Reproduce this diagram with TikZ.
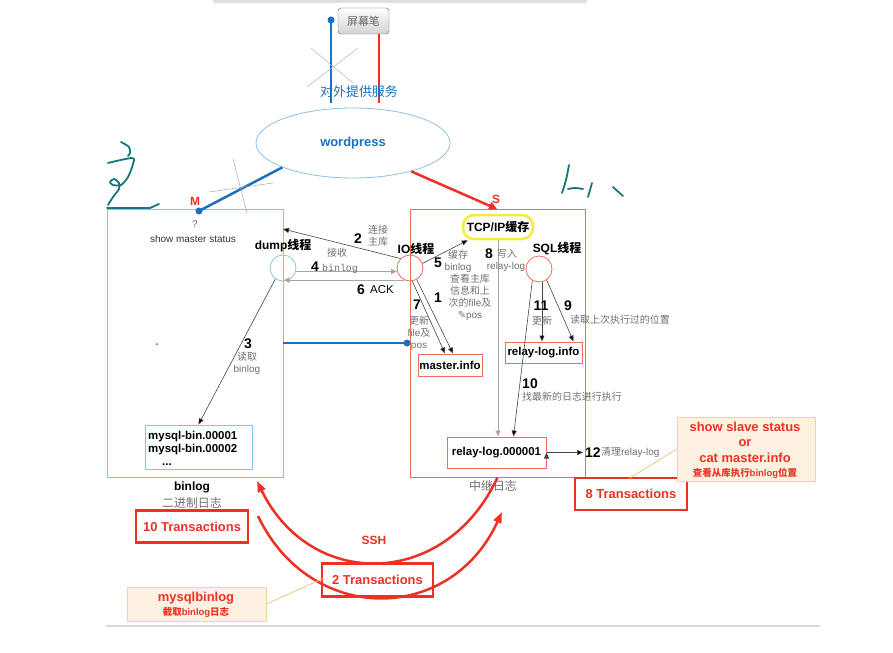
\documentclass[tikz,border=0pt]{standalone}
\usepackage{fontspec}
\setmainfont{Liberation Sans}
\setmonofont{Liberation Mono}
\newfontfamily\cjk{Noto Sans CJK SC}
\newfontfamily\symb{DejaVu Sans}
\usepackage{tikz}
\usetikzlibrary{arrows.meta}
\usetikzlibrary{calc}
\usetikzlibrary{positioning}
\usetikzlibrary{shapes.geometric}
\definecolor{mblue}{HTML}{1F6FBF}
\definecolor{lblue}{HTML}{8EC0E4}
\definecolor{rred}{HTML}{F26B5E}
\definecolor{tred}{HTML}{EE3124}
\definecolor{tyellow}{HTML}{F7EA3A}
\definecolor{flowgray}{HTML}{444444}
\definecolor{notegray}{HTML}{707070}
\definecolor{hand}{HTML}{16777A}
\definecolor{calloutfill}{HTML}{FDF1E2}
\definecolor{calloutedge}{HTML}{F3D3A0}
\newcommand\zh[1]{{\cjk #1}}
\newcommand\fs[1]{\fontsize{#1}{#1}\selectfont}
\newcommand\fsl[2]{\fontsize{#1}{#2}\selectfont}

\begin{document}
\begin{tikzpicture}[x=1bp, y=-1bp, >={Triangle[length=6bp,width=5bp]},
	thread/.style={circle,draw,minimum size=26bp,inner sep=0pt,line width=0.8bp},
	filebox/.style={draw=rred,line width=1bp,inner sep=0pt,font=\bfseries\fs{11.5}},
	tbox/.style={draw=tred,line width=2.5bp,text=tred,inner sep=0pt,font=\bfseries\fs{13}},
	note/.style={text=notegray,inner sep=0pt,font=\fsl{10}{12}},
	num/.style={inner sep=0pt,font=\bfseries\fs{14}},
	flow/.style={->,draw=flowgray,line width=0.6bp},
	callout/.style={draw=calloutedge,fill=calloutfill,line width=0.8bp,text=tred,inner sep=0pt,align=center},
	pen/.style={hand,line width=1.8bp,line cap=round,line join=round}]
\useasboundingbox (0,0) rectangle (893,653);
\fill[gray!25] (213,0) rectangle (587,3);

% top: screen pen and wordpress
\node[rounded corners=3bp, draw=gray!70!blue, top color=white, bottom color=gray!35, minimum width=51bp, minimum height=26bp, inner sep=0pt, text=gray!80!black, font=\fs{11}] (penbtn) at (363.5,21) {\zh{屏幕笔}};
\node[ellipse, draw=lblue, line width=0.8bp, minimum width=194bp, minimum height=70bp, inner sep=0pt, text=mblue, font=\bfseries\fs{13}] (wp) at (353,143) {wordpress};
\coordinate (bluetop) at (331,20);
\coordinate (bluebot) at (331,103);
\coordinate (redbot) at (379,103);
\draw[mblue, line width=2.2bp] (bluebot) -- (bluetop);
\fill[mblue] (bluetop) circle (3.5bp);
\draw[tred, line width=2bp] (penbtn.south -| redbot) -- (redbot);
\draw[gray!60, line width=0.5bp] (311,48) -- (353,83) (358,48) -- (307,87);
\node[text=mblue, font=\fs{13}, inner sep=0pt] (serve) at (359,92) {\zh{对外提供服务}};

% master and slave
\node[draw=lblue, line width=1bp, minimum width=176bp, minimum height=267bp, inner sep=0pt] (master) at (195,343.5) {};
\node[draw=rred, line width=1bp, minimum width=175bp, minimum height=267bp, inner sep=0pt] (slave) at (497.5,343.5) {};
\coordinate (mdot) at (199,211);
\coordinate (sdot) at (497,209);
\draw[mblue, line width=2.5bp] (wp.-161) -- (mdot);
\fill[mblue] (mdot) circle (3.5bp);
\draw[tred, line width=2.5bp, -{Triangle[length=8bp,width=8bp]}] (wp.-26) -- (sdot);
\draw[gray!70, line width=0.5bp] (233,159) -- (247,213) (209,192) -- (273,183);
\node[text=tred, font=\bfseries\fs{12}, inner sep=0pt] (mlabel) at (195,201) {M};
\node[text=tred, font=\bfseries\fs{12}, inner sep=0pt] (slabel) at (496,199) {S};
\node[text=notegray, font=\fs{10}, inner sep=0pt] (qmark) at (195,224) {?};
\node[text=black!80, font=\fs{10}, inner sep=0pt] (showms) at (193,239) {show master status};
\fill[mblue] (157,344) circle (1bp);

% threads
\node[thread, draw=lblue] (dump) at (283,268) {};
\node[thread, draw=rred] (io) at (410,268) {};
\node[thread, draw=rred] (sql) at (539,269) {};
\node[font=\bfseries\fs{12}, inner sep=0pt] (dumpl) at (283,246) {dump\zh{线程}};
\node[font=\bfseries\fs{12}, inner sep=0pt] (iol) at (416,249) {IO\zh{线程}};
\node[font=\bfseries\fs{12}, inner sep=0pt] (sqll) at (557,249) {SQL\zh{线程}};
\node[draw=tyellow, line width=2.5bp, rounded corners=11bp, minimum width=70bp, minimum height=24bp, inner sep=0pt, font=\bfseries\fs{12}] (tcp) at (498,227) {TCP/IP\zh{缓存}};

% files
\node[filebox, minimum width=64bp, minimum height=22bp] (minfo) at (450,365) {master.info};
\node[filebox, minimum width=77bp, minimum height=21bp] (rinfo) at (543.5,352.5) {relay-log.info};
\node[filebox, minimum width=99bp, minimum height=31bp] (rlog) at (496.5,452.5) {relay-log.000001};
\node[draw=lblue, line width=1bp, minimum width=107bp, minimum height=44bp, inner sep=0pt] (bins) at (198.5,447) {};
\node[anchor=west, align=left, inner sep=0pt, font=\bfseries\fsl{11.5}{13}] (binfiles) at (148,448) {mysql-bin.00001\\mysql-bin.00002\\\hspace{14bp}...};
\node[font=\bfseries\fs{12}, inner sep=0pt] (binl) at (192,487) {binlog};
\node[text=notegray, font=\fs{12}, inner sep=0pt] (binzh) at (192,503) {\zh{二进制日志}};
\node[text=notegray, font=\fs{12}, inner sep=0pt] (relayzh) at (493,486) {\zh{中继日志}};

% replication steps
\coordinate (m2) at (283,229);
\coordinate (r12) at (583,452.5);
\path[flow]
		(io.135) edge (m2)
		(dump.-15) edge[draw=gray!70, line width=1.2bp] (io.195)
		(io.-115) edge[draw=gray!70, line width=1.2bp] (io.-115 -| master.east)
		(dump.-125) edge (bins.north)
		(io.-80) edge ([xshift=-5bp]minfo.north)
		(io.-60) edge ([xshift=3bp]minfo.north)
		(io.20) edge ([xshift=6bp]tcp.south west)
		(tcp.south) edge[draw=gray!70] (tcp.south |- rlog.north)
		([xshift=3bp]sql.south) edge ([xshift=3bp]sql.south |- rinfo.north)
		(sql.-55) edge ([xshift=30bp]rinfo.north)
		(sql.-120) edge ([xshift=17bp]rlog.north)
		(rlog.east) edge (r12);
\draw[mblue, line width=2.2bp] (283,343) -- (407,343);
\fill[mblue] (407,343) circle (3.5bp);

\node[num] (n2) at (358,239) {2};
\node[note, align=center] (n2t) at (378,236) {\zh{连接}\\\zh{主库}};
\node[note] (n4z) at (337,253) {\zh{接收}};
\node[num] (n4) at (315,267) {4};
\node[note, font=\ttfamily\fs{10}] (n4t) at (340,269) {binlog};
\node[num] (n6) at (361,290) {6};
\node[inner sep=0pt, font=\fs{11.5}] (n6t) at (382,290) {ACK};
\node[num] (n3) at (248,344) {3};
\node[note, align=center] (n3t) at (247,363) {\zh{读取}\\binlog};
\node[num] (n7) at (417,305) {7};
\node[note, align=center] (n7t) at (419,333) {\zh{更新}\\file\zh{及}\\pos};
\node[num] (n1) at (438,298) {1};
\node[note, align=center] (n1t) at (470,297) {\zh{查看主库}\\\zh{信息和上}\\\zh{次的}file\zh{及}\\{\symb ✎}pos};
\node[num] (n5) at (438,263) {5};
\node[note, align=center] (n5t) at (458,261) {\zh{缓存}\\binlog};
\node[num] (n8) at (489,254) {8};
\node[note] (n8a) at (507,254) {\zh{写入}};
\node[note] (n8b) at (506,267) {relay-log};
\node[num] (n11) at (541,306) {11};
\node[note] (n11t) at (542,321) {\zh{更新}};
\node[num] (n9) at (568,306) {9};
\node[note] (n9t) at (620,320) {\zh{读取上次执行过的位置}};
\node[num] (n10) at (530,384) {10};
\node[note] (n10t) at (572,397) {\zh{找最新的日志进行执行}};
\node[num, anchor=west] (n12) at (585,452.5) {12};
\node[note, anchor=west] (n12t) at (601,452.5) {\zh{清理}relay-log};

% transactions and ssh
\node[tbox, minimum width=112bp, minimum height=32bp] (t10) at (192,526.5) {10 Transactions};
\node[tbox, minimum width=111bp, minimum height=33bp] (t2) at (377.5,580) {2 Transactions};
\node[tbox, minimum width=112bp, minimum height=32bp] (t8) at (631,494) {8 Transactions};
\coordinate (ssh1) at (257,481);
\coordinate (ssh2a) at (258,516);
\coordinate (ssh2b) at (502,512);
\draw[tred, line width=2.5bp, -{Triangle[length=11bp,width=8bp]}] (slave.south) .. controls (445,590) and (310,590) .. (ssh1);
\draw[tred, line width=2.5bp, -{Triangle[length=11bp,width=8bp]}] (ssh2a) .. controls (310,625) and (450,625) .. (ssh2b);
\node[text=tred, font=\bfseries\fs{12}, inner sep=0pt] (ssh) at (374,540) {SSH};

% callouts
\node[callout, minimum width=138bp, minimum height=64bp] (slavest) at (746,449) {};
\node[text=tred, align=center, inner sep=0pt, font=\bfseries\fsl{13}{15.5}] (slavestt) at (745,442) {show slave status\\or\\cat master.info};
\node[text=tred, inner sep=0pt, font=\bfseries\fs{9.5}] (slavestz) at (745,473) {\zh{查看从库执行}binlog\zh{位置}};
\coordinate (c8) at (630,478);
\draw[calloutedge!80!orange, line width=0.8bp] (slavest.west) -- (c8);
\fill[orange] (c8) circle (1.5bp);
\node[callout, minimum width=139bp, minimum height=34bp] (mbl) at (196.5,604) {};
\node[text=tred, inner sep=0pt, font=\bfseries\fs{13}] (mblt) at (196,598) {mysqlbinlog};
\node[text=tred, inner sep=0pt, font=\bfseries\fs{9.5}] (mblz) at (196,612) {\zh{截取}binlog\zh{日志}};
\coordinate (c2) at (322,579);
\draw[calloutedge!80!orange, line width=0.8bp] (mbl.east) -- (c2);
\fill[orange] (c2) circle (1.5bp);

\draw[gray!30, line width=1.5bp] (106,626) -- (820,626);

% hand written marks
\draw[pen] plot[smooth] coordinates {(121,142) (129,147) (130,153) (128,156)};
\draw[pen] plot[smooth] coordinates {(108,163) (132,158) (133,164) (128,177) (121,185) (113,185) (110,182) (114,179) (119,183) (119,189) (113,197) (108,205)};
\draw[pen] (107,208) -- (150,208) -- (159,204);
\draw[pen] plot[smooth] coordinates {(569,165) (566,180) (562,193)};
\draw[pen] plot[smooth] coordinates {(568,189) (575,188) (583,189)};
\draw[pen] (592,183) -- (588,197);
\draw[pen] (613,187) -- (623,196);
\end{tikzpicture}
\end{document}
